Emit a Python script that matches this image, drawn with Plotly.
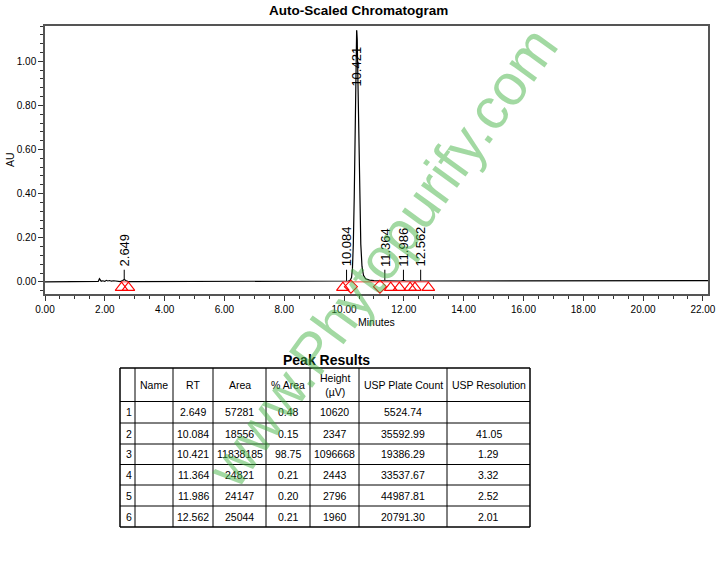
import plotly.graph_objects as go

# ---------------- data ----------------
trace_time = [0.0, 1.70, 1.78, 1.82, 1.85, 1.88, 1.93, 2.00, 2.05, 2.10, 2.16, 2.22, 2.30, 2.40,
              2.52, 2.60, 2.649, 2.70, 2.78, 2.90, 4.0, 6.0, 8.0, 9.6, 9.95, 10.03, 10.084, 10.14,
              10.20, 10.25, 10.28, 10.31, 10.34, 10.37, 10.40, 10.421, 10.44, 10.47, 10.50,
              10.53, 10.56, 10.60, 10.65, 10.72, 10.85, 11.0, 11.2, 11.30, 11.364, 11.43,
              11.6, 11.90, 11.986, 12.06, 12.3, 12.50, 12.562, 12.63, 13.0, 15.0, 18.0, 22.17]
trace_au = [0.000, 0.000, 0.002, 0.014, 0.006, 0.003, 0.005, 0.002, 0.007, 0.004, 0.006, 0.003,
            0.005, 0.002, 0.001, 0.006, 0.0106, 0.006, 0.001, 0.001, 0.001, 0.001, 0.001, 0.002,
            0.002, 0.003, 0.0043, 0.004, 0.006, 0.02, 0.06, 0.17, 0.38, 0.68, 1.02, 1.14, 1.10,
            0.88, 0.58, 0.33, 0.17, 0.07, 0.03, 0.014, 0.008, 0.006, 0.005, 0.005, 0.0072, 0.005,
            0.004, 0.004, 0.0068, 0.004, 0.004, 0.004, 0.0055, 0.004, 0.004, 0.004, 0.005, 0.006]

peak_rt = [2.649, 10.084, 10.421, 11.364, 11.986, 12.562]
peak_label = ["2.649", "10.084", "10.421", "11.364", "11.986", "12.562"]
peak_apex = [0.0106, 0.0043, 1.14, 0.0072, 0.0068, 0.0055]

tri_time = [2.56, 2.79, 9.96, 11.56, 11.85, 12.21, 12.37, 12.82]
dia_time = [10.23, 11.20]
baseline_segments = [(2.56, 2.79), (9.96, 12.82)]

x_ticks = [0, 2, 4, 6, 8, 10, 12, 14, 16, 18, 20, 22]
y_ticks = [0.0, 0.2, 0.4, 0.6, 0.8, 1.0]

col_headers = ["", "Name", "RT", "Area", "% Area", "Height<br>(µV)", "USP Plate Count", "USP Resolution"]
row_idx = ["1", "2", "3", "4", "5", "6"]
row_name = ["", "", "", "", "", ""]
row_rt = ["2.649", "10.084", "10.421", "11.364", "11.986", "12.562"]
row_area = ["57281", "18556", "11838185", "24821", "24147", "25044"]
row_pct = ["0.48", "0.15", "98.75", "0.21", "0.20", "0.21"]
row_height = ["10620", "2347", "1096668", "2443", "2796", "1960"]
row_plate = ["5524.74", "35592.99", "19386.29", "33537.67", "44987.81", "20791.30"]
row_res = ["", "41.05", "1.29", "3.32", "2.52", "2.01"]

# ---------------- figure ----------------
W, H = 724, 575
FONT = "Liberation Sans, Arial, sans-serif"

def px(x):
    return x / W

def py(y):
    return 1 - y / H

fig = go.Figure()

fig.add_trace(go.Scatter(x=trace_time, y=trace_au, mode="lines",
                         line=dict(color="black", width=1.2), hoverinfo="skip",
                         showlegend=False))

for a, b in baseline_segments:
    fig.add_trace(go.Scatter(x=[a, b], y=[0.0, 0.0], mode="lines",
                             line=dict(color="#ff4040", width=1), showlegend=False))

fig.add_trace(go.Scatter(x=tri_time, y=[-0.026] * len(tri_time), mode="markers",
                         marker=dict(symbol="triangle-up-open", color="#ff0000", size=11,
                                     line=dict(width=1.1)),
                         showlegend=False))
fig.add_trace(go.Scatter(x=dia_time, y=[-0.022] * len(dia_time), mode="markers",
                         marker=dict(symbol="diamond-open", color="#ff0000", size=10,
                                     line=dict(width=1.1)),
                         showlegend=False))

annotations = []
shapes = []
for rt, lab, apex in zip(peak_rt, peak_label, peak_apex):
    if apex > 0.5:
        text_base = 0.87
        line_y0, line_y1 = 1.08, 1.14
    else:
        text_base = 0.055
        line_y0, line_y1 = apex, text_base
    shapes.append(dict(type="line", xref="x", yref="y", x0=rt, x1=rt, y0=line_y0, y1=line_y1,
                       line=dict(color="black", width=1)))
    annotations.append(dict(x=rt, y=text_base, xref="x", yref="y", text=lab, textangle=-90,
                            showarrow=False, xanchor="center", yanchor="bottom",
                            font=dict(family=FONT, size=13, color="black"), yshift=1))

def label(x, y, text, size, angle=0, color="black", xanchor="center"):
    annotations.append(dict(x=px(x), y=py(y), xref="paper", yref="paper", text=text,
                            textangle=angle, showarrow=False, xanchor=xanchor,
                            yanchor="middle", font=dict(family=FONT, size=size, color=color)))

label(358, 11, "<b>Auto-Scaled Chromatogram</b>", 13.5)
label(376, 322, "Minutes", 10.5)
label(10, 160, "AU", 10.5, angle=-90)
label(326, 360, "<b>Peak Results</b>", 14)

# ---------------- table (drawn with shapes + text) ----------------
col_edges = [120, 135, 173, 213, 266, 310, 359, 447, 530]
row_edges = [368, 401.5, 423, 444, 464.5, 485, 506, 527]
columns = [row_idx, row_name, row_rt, row_area, row_pct, row_height, row_plate, row_res]

for xe in col_edges:
    w = 1.5 if xe in (col_edges[0], col_edges[-1]) else 1
    shapes.append(dict(type="line", xref="paper", yref="paper", x0=px(xe), x1=px(xe),
                       y0=py(row_edges[0]), y1=py(row_edges[-1]), line=dict(color="black", width=w)))
for ye in row_edges:
    w = 1.5 if ye in (row_edges[0], row_edges[-1]) else 1
    shapes.append(dict(type="line", xref="paper", yref="paper", x0=px(col_edges[0]), x1=px(col_edges[-1]),
                       y0=py(ye), y1=py(ye), line=dict(color="black", width=w)))

for ci, head in enumerate(col_headers):
    xc = (col_edges[ci] + col_edges[ci + 1]) / 2
    yc = (row_edges[0] + row_edges[1]) / 2
    if head:
        label(xc, yc, head, 10.5)
for ci, col in enumerate(columns):
    for ri, val in enumerate(col):
        if not val:
            continue
        yc = (row_edges[ri + 1] + row_edges[ri + 2]) / 2
        if ci == 0:
            label(col_edges[0] + 4, yc, val, 10.5, xanchor="left")
        else:
            xc = (col_edges[ci] + col_edges[ci + 1]) / 2
            label(xc, yc, val, 10.5)

# watermark
label(381, 257, "www.Phytopurify.com", 58, angle=-54, color="rgba(70,180,70,0.5)")

fig.update_layout(
    width=W, height=H,
    margin=dict(l=0, r=0, t=0, b=0, autoexpand=False),
    paper_bgcolor="white", plot_bgcolor="white",
    showlegend=False,
    annotations=annotations, shapes=shapes,
    xaxis=dict(domain=[px(45), px(708)], range=[0, 22.17], tickvals=x_ticks,
               tickformat=".2f", ticks="outside", ticklen=5, tickcolor="#333",
               showline=True, linecolor="#555", linewidth=1.5, mirror=True,
               showgrid=False, zeroline=False, automargin=False,
               minor=dict(dtick=0.5, ticklen=3, ticks="outside", tickcolor="#333", showgrid=False),
               tickfont=dict(family=FONT, size=10, color="black"), anchor="y"),
    yaxis=dict(domain=[py(294), py(26)], range=[-0.055, 1.16], tickvals=y_ticks,
               tickformat=".2f", ticks="outside", ticklen=5, tickcolor="#333",
               showline=True, linecolor="#555", linewidth=1.5, mirror=True,
               showgrid=False, zeroline=False, automargin=False,
               minor=dict(dtick=0.04, ticklen=3, ticks="outside", tickcolor="#333", showgrid=False),
               tickfont=dict(family=FONT, size=10, color="black"), anchor="x"),
)

fig.write_html("out.html", config={"displayModeBar": False},
               post_script="document.body.style.margin='0';")
